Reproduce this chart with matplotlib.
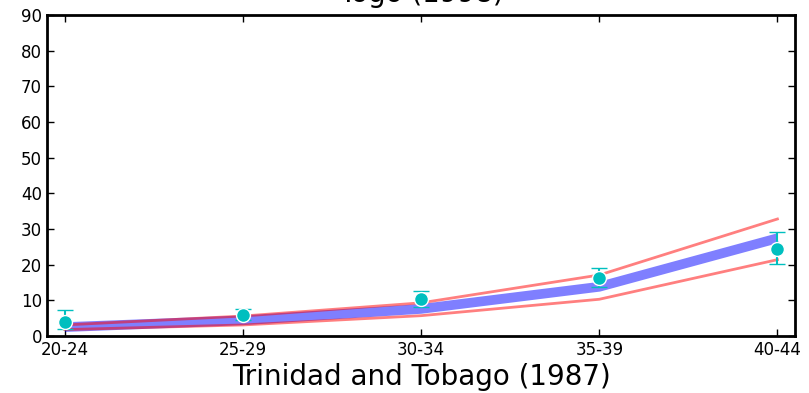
import matplotlib
matplotlib.use('Agg')
import matplotlib.pyplot as plt
import numpy as np

# Age groups and rates
ages = ['20-24', '25-29', '30-34', '35-39', '40-44']
model = [2.5, 4.4, 7.6, 13.8, 27.4]
upper = [3.1, 5.6, 9.3, 17.1, 32.8]
lower = [1.8, 3.1, 5.7, 10.3, 21.4]
obs = [4.0, 5.9, 10.3, 16.2, 24.4]
obs_hi = [7.3, 7.5, 12.6, 19.0, 29.1]
obs_lo = [2.0, 4.6, 8.2, 13.6, 20.2]

x = np.arange(len(ages))
obs = np.array(obs)
yerr = [obs - np.array(obs_lo), np.array(obs_hi) - obs]

fig = plt.figure(figsize=(8.09, 3.93), dpi=100)
ax = fig.add_axes([0.058, 0.145, 0.925, 0.817])

ax.plot(x, model, color='blue', alpha=0.5, lw=7, solid_capstyle='butt', zorder=2)
ax.plot(x, upper, color='red', alpha=0.5, lw=2, zorder=2)
ax.plot(x, lower, color='red', alpha=0.5, lw=2, zorder=2)
ax.errorbar(x, obs, yerr=yerr, fmt='o', color='c', ecolor='c', mec='white',
            mew=1, ms=10, capsize=6, elinewidth=1.5, capthick=1.5, zorder=3)

ax.set_xlim(-0.1, 4.1)
ax.set_ylim(0, 90)
ax.set_yticks(np.arange(0, 91, 10))
ax.set_xticks(x)
ax.set_xticklabels(ages)
ax.tick_params(direction='in', top=True, right=True, labelsize=12, length=5, width=1)
for s in ax.spines.values():
    s.set_linewidth(2)
ax.set_title('Togo (1998)', fontsize=20, pad=9)
ax.set_xlabel('Trinidad and Tobago (1987)', fontsize=20, labelpad=3)

fig.savefig('out.png', dpi=100)
